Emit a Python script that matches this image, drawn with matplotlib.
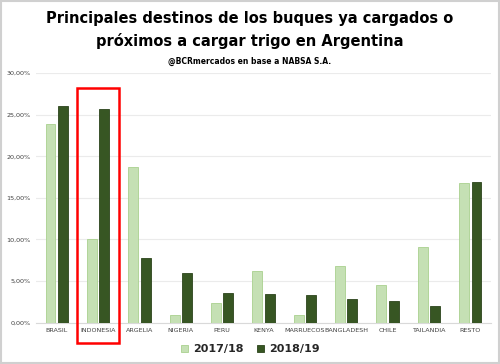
import numpy as np
import matplotlib
matplotlib.use("Agg")
import matplotlib.pyplot as plt
from matplotlib.patches import Rectangle
from matplotlib.ticker import FuncFormatter

# destinos y participacion (%)
destinos = ["BRASIL", "INDONESIA", "ARGELIA", "NIGERIA", "PERU", "KENYA",
            "MARRUECOS", "BANGLADESH", "CHILE", "TAILANDIA", "RESTO"]
campana_1718 = [23.9, 10.0, 18.75, 0.96, 2.29, 6.2, 0.88, 6.78, 4.53, 9.1, 16.75]
campana_1819 = [26.0, 25.7, 7.75, 5.98, 3.57, 3.37, 3.25, 2.85, 2.6, 1.93, 16.9]
series = ["2017/18", "2018/19"]

def main():
    fig = plt.figure(figsize=(5, 3.64), dpi=100)
    ax = fig.add_axes([0.072, 0.114, 0.91, 0.685])

    x = np.arange(len(destinos))
    w = 0.24
    ax.bar(x - 0.15, campana_1718, w, color="#c5e0b4", edgecolor="#a9d18e",
           linewidth=0.6, label=series[0], zorder=3)
    ax.bar(x + 0.15, campana_1819, w, color="#375623", edgecolor="#2b441b",
           linewidth=0.6, label=series[1], zorder=3)

    ax.set_xlim(-0.5, len(destinos) - 0.5)
    ax.set_ylim(0, 30)
    ax.set_yticks(np.arange(0, 31, 5))
    ax.yaxis.set_major_formatter(FuncFormatter(lambda v, p: f"{v:.2f}%".replace(".", ",")))
    ax.set_xticks(x)
    ax.set_xticklabels(destinos)
    ax.tick_params(axis="both", length=0, labelsize=4.6, colors="#404040", pad=4)
    ax.grid(axis="y", color="#ebebeb", linewidth=0.8, zorder=0)
    for s in ["top", "right", "left"]:
        ax.spines[s].set_visible(False)
    ax.spines["bottom"].set_color("#d9d9d9")

    # recuadro rojo sobre Indonesia
    ax.add_patch(Rectangle((0.5, -2.5), 1.0, 30.7, fill=False, edgecolor="#ff0000",
                           linewidth=1.8, clip_on=False, zorder=5))

    fig.text(0.5, 0.918, "Principales destinos de los buques ya cargados o\npróximos a cargar trigo en Argentina",
             ha="center", va="center", fontsize=10.5, fontweight="bold",
             family="DejaVu Sans", linespacing=1.5)
    fig.text(0.5, 0.832, "@BCRmercados en base a NABSA S.A.", ha="center", va="center",
             fontsize=5.5, fontweight="bold", family="DejaVu Sans")

    leg = fig.legend(loc="center", bbox_to_anchor=(0.5, 0.04), ncol=2, frameon=False,
                     prop={"size": 8, "weight": "bold"}, handlelength=0.7, handleheight=0.7,
                     handletextpad=0.4, columnspacing=1.2)
    for t in leg.get_texts():
        t.set_color("#262626")

    # marco gris de la imagen
    fig.patches.append(Rectangle((0.002, 0.003), 0.996, 0.994, transform=fig.transFigure,
                                 fill=False, edgecolor="#d0d0d0", linewidth=1.5))

    fig.savefig("out.png", dpi=100)


if __name__ == '__main__':
    main()
